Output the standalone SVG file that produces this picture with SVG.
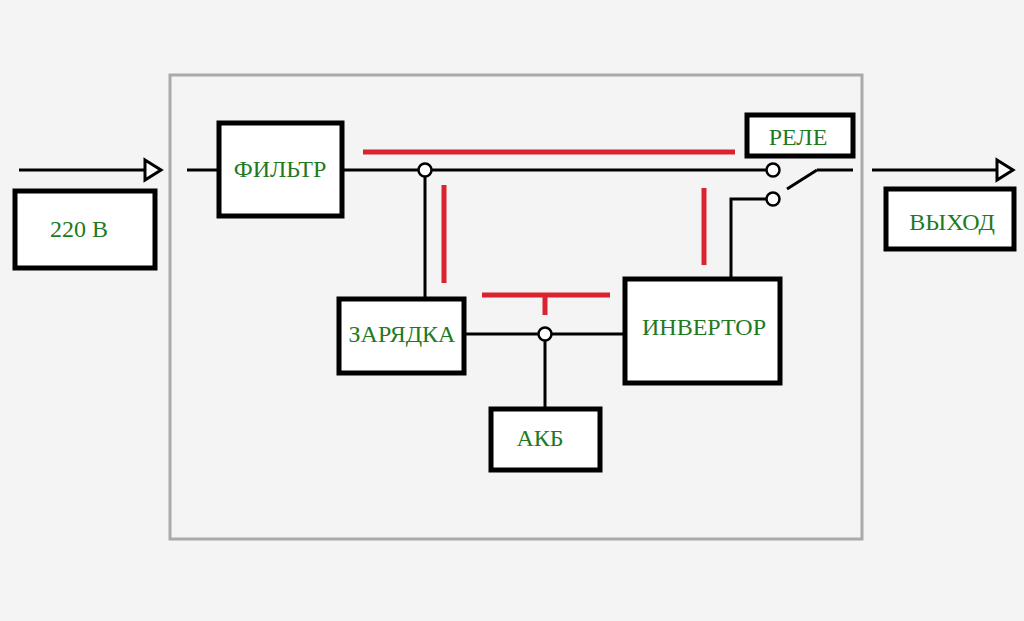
<svg xmlns="http://www.w3.org/2000/svg" width="1024" height="621" viewBox="0 0 1024 621">
<style>
.box{fill:#fff;stroke:#000;stroke-width:5}
.t{font-family:"Liberation Serif",serif;font-size:24px;fill:#1f7a1f;text-anchor:middle}
.w{stroke:#000;stroke-width:3;fill:none}
.r{stroke:#d9232e;stroke-width:5;fill:none}
.c{fill:#fff;stroke:#000;stroke-width:2.5}
</style>
<rect width="1024" height="621" fill="#f4f4f4"/>
<rect x="170" y="75" width="692" height="464" fill="none" stroke="#aaa" stroke-width="3"/>
<g id="connectors">
<path class="w" d="M19 170H145M187 170H218M343 170H767M425 176V298M817 170H853M817 170L787 189M767 199H731V278M872 170H997M464 334H624M545 340V408"/>
<path d="M145 160L161 170L145 180Z" fill="#fff" stroke="#000" stroke-width="3"/>
<path d="M997 160L1013 170L997 180Z" fill="#fff" stroke="#000" stroke-width="3"/>
<circle class="c" cx="425" cy="170" r="6.5"/>
<circle class="c" cx="773" cy="170" r="6.5"/>
<circle class="c" cx="773" cy="199" r="6.5"/>
<circle class="c" cx="545" cy="334" r="6.5"/>
<path class="r" d="M363 152H735M444 185V283M704 188V265M482 295H610M545 295V315"/>
</g>
<g id="n220"><rect class="box" x="15" y="191" width="140" height="77"/><text class="t" x="79" y="237">220 В</text></g>
<g id="filter"><rect class="box" x="219" y="123" width="123" height="93"/><text class="t" x="280" y="177">ФИЛЬТР</text></g>
<g id="rele"><rect class="box" x="747" y="115" width="106" height="41"/><text class="t" x="798" y="145">РЕЛЕ</text></g>
<g id="out"><rect class="box" x="886" y="189" width="128" height="60"/><text class="t" x="952" y="230">ВЫХОД</text></g>
<g id="charge"><rect class="box" x="339" y="299" width="125" height="74"/><text class="t" x="402" y="342">ЗАРЯДКА</text></g>
<g id="inv"><rect class="box" x="625" y="279" width="155" height="104"/><text class="t" x="704" y="335">ИНВЕРТОР</text></g>
<g id="akb"><rect class="box" x="491" y="409" width="109" height="61"/><text class="t" x="540" y="446">АКБ</text></g>
</svg>
